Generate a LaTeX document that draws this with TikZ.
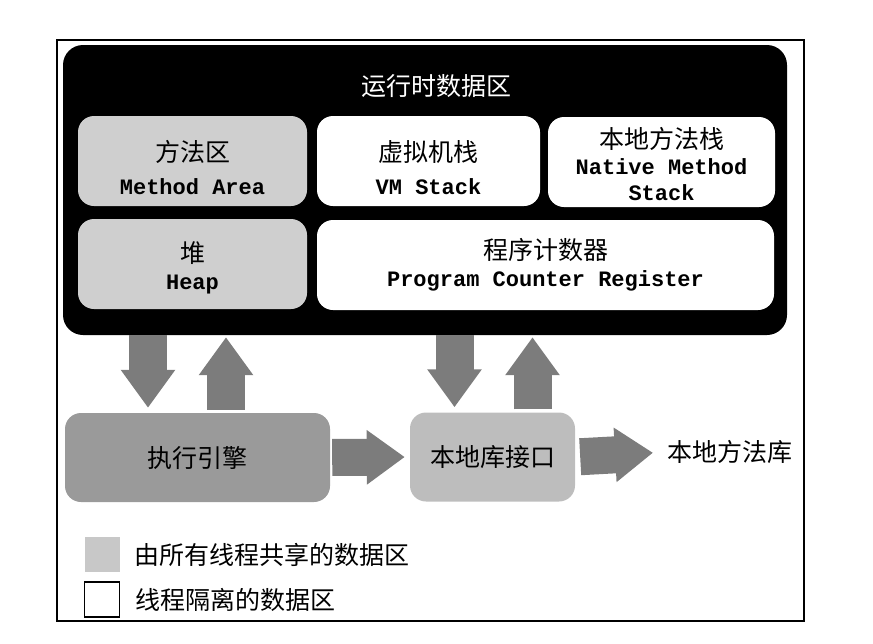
\documentclass[tikz,border=0pt]{standalone}
\usepackage{fontspec}
\usepackage{tikz}
\usetikzlibrary{
  arrows.meta,
  positioning,
  calc
}
\newfontfamily\zhfont{Noto Sans CJK SC}
\newfontfamily\enfont{Liberation Mono}
\newcommand{\zh}{\zhfont\fontsize{25}{33}\selectfont}
\newcommand{\en}{\enfont\bfseries\fontsize{22}{33}\selectfont}
\definecolor{rtBlack}{HTML}{000000}
\definecolor{rtShared}{HTML}{CFCFCF}
\definecolor{rtEngine}{HTML}{9A9A9A}
\definecolor{rtNative}{HTML}{BDBDBD}
\definecolor{rtArrow}{HTML}{7C7C7C}
\definecolor{rtLegend}{HTML}{C8C8C8}
\tikzset{
  area/.style={
    rounded corners=16pt, inner sep=0pt, align=center,
    minimum height=90pt, font=\zh
  },
  shared/.style={area, fill=rtShared},
  private/.style={area, fill=white},
  unit/.style={rounded corners=16pt, inner sep=0pt, minimum height=89pt, font=\zh},
  blkarrow/.style={line width=38pt, draw=rtArrow, -{Triangle[length=38pt, width=52pt]}},
  legsq/.style={minimum size=35pt, inner sep=0pt},
  legtext/.style={font=\zh, inner sep=0pt, anchor=west}
}

\begin{document}
\begin{tikzpicture}[x=1pt, y=-1pt]
  \useasboundingbox (0,0) rectangle (873,643);
  \draw[line width=1.2pt] (57,40) rectangle (804,621);

  % runtime data area
  \node[fill=rtBlack, rounded corners=20pt, minimum width=724pt, minimum height=290pt] (rt) at (425,190) {};
  \node[font=\zh, text=white] (rttitle) at (436,86) {运行时数据区};
  \node[shared, minimum width=229pt, text height=67pt] (method) at (192.5,161) {方法区\\{\en Method Area}};
  \node[private, minimum width=223pt, text height=67pt] (vmstack) at (428.5,161) {虚拟机栈\\{\en VM Stack}};
  \node[private, minimum width=227pt, text height=78pt] (native) at (661.5,162) {本地方法栈\\[-7pt]{\en Native Method}\\[-7pt]{\en Stack}};
  \node[shared, minimum width=229pt, text height=55pt] (heap) at (192.5,264) {堆\\[-6pt]{\en Heap}};
  \node[private, minimum width=457pt] (pc) at (545.5,265) {程序计数器\\[-6pt]{\en Program Counter Register}};

  % execution engine and native interface
  \node[unit, fill=rtEngine, minimum width=265pt] (engine) at (197.5,457.5) {执行引擎};
  \node[unit, fill=rtNative, minimum width=165pt] (nif) at (492.5,457) {本地库接口};
  \node[font=\zh, anchor=west, inner sep=0pt] (lib) at (667,452) {本地方法库};

  \coordinate (e1) at ([xshift=-49.5pt]engine.north);
  \coordinate (e2) at ([xshift=28.5pt]engine.north);
  \coordinate (n1) at ([xshift=-38pt]nif.north);
  \coordinate (n2) at ([xshift=40pt]nif.north);
  \draw[blkarrow, shorten >=5pt] (rt.south -| e1) -- (e1);
  \draw[blkarrow, shorten <=3pt, shorten >=2pt] (e2) -- (rt.south -| e2);
  \draw[blkarrow, shorten >=5pt] (rt.south -| n1) -- (n1);
  \draw[blkarrow, shorten <=3pt, shorten >=2pt] (n2) -- (rt.south -| n2);
  \draw[blkarrow, line width=37pt, shorten <=2pt, shorten >=5pt] (engine.east) -- (nif.west);
  \draw[blkarrow, line width=37pt, shorten <=5pt, shorten >=14pt] (nif.east) -- (lib.west);

  % legend
  \node[legsq, fill=rtLegend] (legshared) at (102,554.5) {};
  \node[legtext, right=15pt of legshared] (legsharedtxt) {由所有线程共享的数据区};
  \node[legsq, draw, line width=1.5pt] (legprivate) at (102,599.5) {};
  \node[legtext, right=15pt of legprivate] (legprivatetxt) {线程隔离的数据区};
\end{tikzpicture}
\end{document}
